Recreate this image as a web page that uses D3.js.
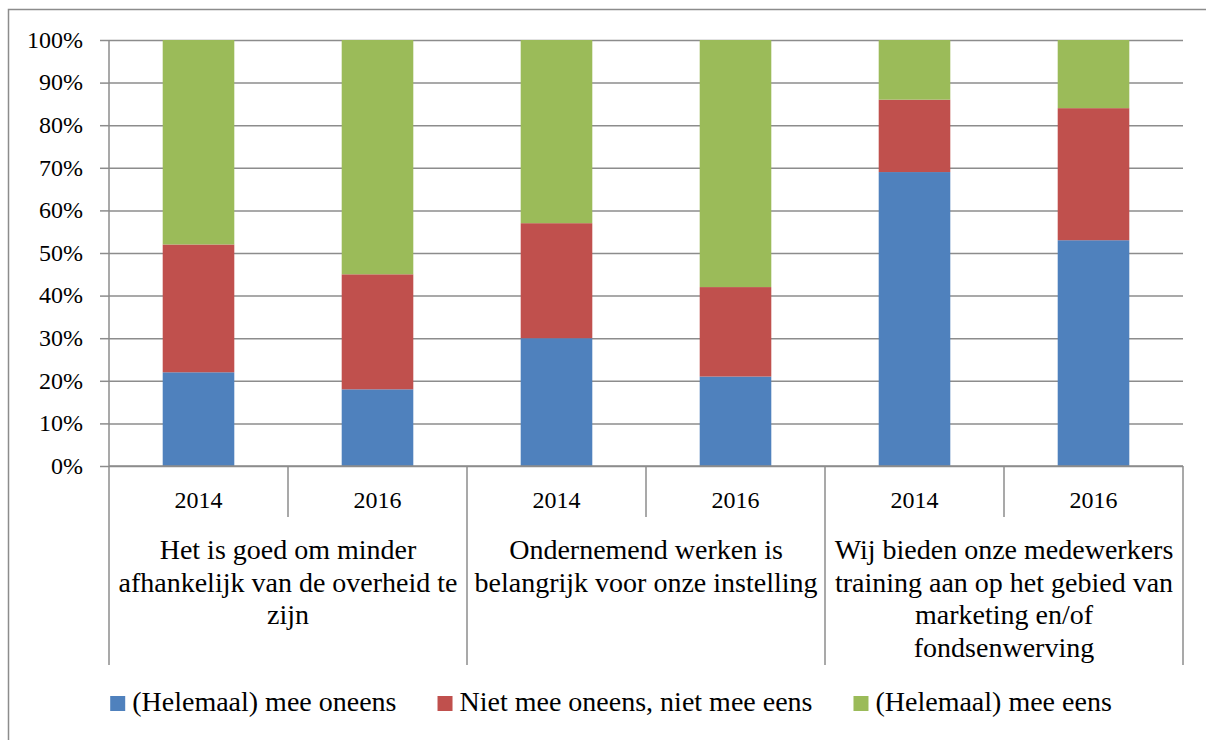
<!DOCTYPE html>
<html lang="nl">

<head>
  <meta charset="UTF-8">
  <script src="https://d3js.org/d3.v7.min.js"></script>
  <title>Stellingen 2014 en 2016</title>
  <style>
    body { margin: 0; background: #fff; }
    svg text { font-family: "Liberation Serif", "Times New Roman", serif !important; fill: #000; }
  </style>
</head>

<body>
  <svg width="1206" height="740"></svg>

  <script>
    // statements, each as the lines it wraps to
    const categories = [
      ['Het is goed om minder', 'afhankelijk van de overheid te', 'zijn'],
      ['Ondernemend werken is', 'belangrijk voor onze instelling'],
      ['Wij bieden onze medewerkers', 'training aan op het gebied van', 'marketing en/of', 'fondsenwerving']
    ]
    const years = ['2014', '2016']
    const seriesNames = ['(Helemaal) mee oneens', 'Niet mee oneens, niet mee eens', '(Helemaal) mee eens']
    const colors = ['#4F81BD', '#C0504D', '#9BBB59']

    // percentages per bar: cat0 2014, cat0 2016, cat1 2014, ...
    const oneens = [22, 18, 30, 21, 69, 53]
    const neutraal = [30, 27, 27, 21, 17, 31]
    const eens = [48, 55, 43, 58, 14, 16]

    const GRID = '#8c8c8c'

    const svg = d3.select('svg')
    const plotLeft = 109, plotRight = 1183, plotTop = 40, plotBottom = 466

    const rows = []
    categories.forEach((c, ci) => years.forEach((yr, yi) => {
      const i = ci * years.length + yi
      rows.push({ key: ci + '-' + yr, cat: ci, year: yr, s0: oneens[i] / 100, s1: neutraal[i] / 100, s2: eens[i] / 100 })
    }))

    const x = d3.scaleBand()
      .domain(rows.map(d => d.key))
      .range([plotLeft, plotRight])
      .paddingInner(0.6)
      .paddingOuter(0.3)

    const y = d3.scaleLinear().domain([0, 1]).range([plotBottom, plotTop])

    // outer frame
    svg.append('rect')
      .attr('x', 8.5).attr('y', 9.5)
      .attr('width', 1210).attr('height', 740)
      .attr('fill', 'none').attr('stroke', GRID).attr('stroke-width', 1.5)

    // gridlines
    svg.append('g')
      .attr('transform', `translate(${plotLeft},0)`)
      .call(d3.axisLeft(y).ticks(10).tickSize(-(plotRight - plotLeft)).tickFormat(''))
      .call(g => g.select('.domain').remove())
      .call(g => g.selectAll('line').attr('stroke', GRID).attr('stroke-width', 1.5))

    // y axis with labels
    svg.append('g')
      .attr('transform', `translate(${plotLeft},0)`)
      .call(d3.axisLeft(y).ticks(10, '.0%').tickSizeInner(9).tickSizeOuter(0).tickPadding(17))
      .call(g => g.select('.domain').remove())
      .call(g => g.selectAll('line').attr('stroke', GRID).attr('stroke-width', 1.5))
      .call(g => g.selectAll('text').attr('font-size', 24).attr('dy', '0.3em'))

    // stacked bars
    const stack = d3.stack().keys(['s0', 's1', 's2'])(rows)
    svg.append('g')
      .selectAll('g')
      .data(stack)
      .join('g')
      .attr('fill', (d, i) => colors[i])
      .selectAll('rect')
      .data(d => d)
      .join('rect')
      .attr('x', d => x(d.data.key))
      .attr('width', x.bandwidth())
      .attr('y', d => y(d[1]))
      .attr('height', d => y(d[0]) - y(d[1]))

    // category axis
    const axisBottom = 665
    const step = x.step()
    const catAxis = svg.append('g').attr('stroke', GRID).attr('stroke-width', 1.5)
    catAxis.append('line')
      .attr('x1', plotLeft).attr('x2', plotRight)
      .attr('y1', plotBottom).attr('y2', plotBottom)
    catAxis.append('line')
      .attr('x1', plotLeft).attr('x2', plotLeft)
      .attr('y1', plotTop).attr('y2', plotBottom)

    // separators between bars: long between statements, short between years
    d3.range(rows.length + 1).forEach(i => {
      const xx = plotLeft + i * step
      const long = i % years.length === 0
      catAxis.append('line')
        .attr('x1', xx).attr('x2', xx)
        .attr('y1', plotBottom).attr('y2', long ? axisBottom : 517)
    })

    // year labels
    svg.append('g')
      .selectAll('text')
      .data(rows)
      .join('text')
      .attr('x', d => x(d.key) + x.bandwidth() / 2)
      .attr('y', 508)
      .attr('text-anchor', 'middle')
      .attr('font-size', 24)
      .text(d => d.year)

    // statement labels
    svg.append('g')
      .selectAll('text')
      .data(categories)
      .join('text')
      .attr('text-anchor', 'middle')
      .attr('font-size', 28)
      .attr('transform', (d, i) => `translate(${plotLeft + (i + 0.5) * step * years.length},559)`)
      .selectAll('tspan')
      .data(d => d)
      .join('tspan')
      .attr('x', 0)
      .attr('y', (d, i) => i * 32.5)
      .text(d => d)

    // legend
    const legend = svg.append('g')
    const items = legend.selectAll('g')
      .data(seriesNames)
      .join('g')
    items.append('rect')
      .attr('y', 696)
      .attr('width', 15).attr('height', 15)
      .attr('fill', (d, i) => colors[i])
    items.append('text')
      .attr('x', 22)
      .attr('y', 711)
      .attr('font-size', 28)
      .text(d => d)

    const widths = []
    items.each(function () { widths.push(this.getBBox().width) })
    const gap = 41
    const total = d3.sum(widths) + gap * (widths.length - 1)
    let offset = 611 - total / 2
    items.attr('transform', (d, i) => {
      const t = `translate(${offset},0)`
      offset += widths[i] + gap
      return t
    })
  </script>
</body>

</html>
